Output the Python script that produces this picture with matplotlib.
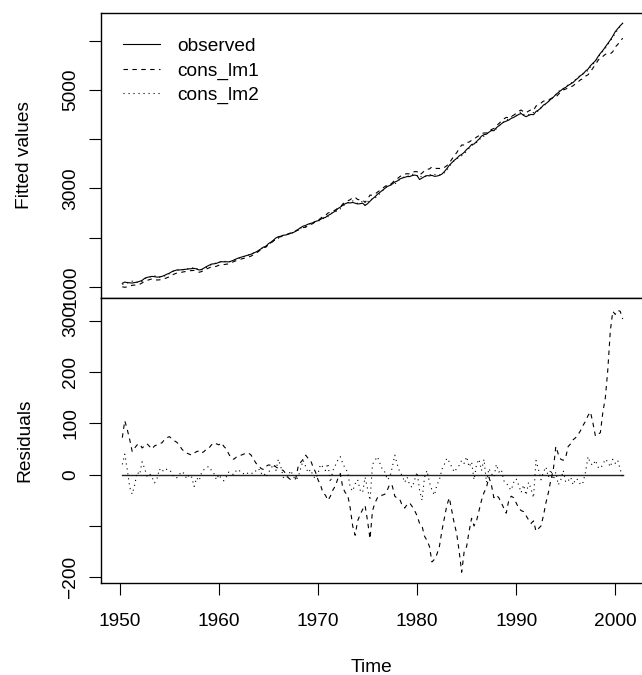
import numpy as np
import matplotlib
matplotlib.use("Agg")
import matplotlib.pyplot as plt

plt.rcParams['font.family'] = ['Liberation Sans', 'DejaVu Sans']

# quarterly series, first value is 1950 Q2
start_year = 1950.25
per_year = 4

observed = [
    1075, 1100, 1090,
    1085, 1080, 1090, 1100,
    1115, 1135, 1175, 1195,
    1205, 1215, 1210, 1200,
    1205, 1215, 1235, 1260,
    1280, 1310, 1330, 1345,
    1345, 1350, 1355, 1362,
    1368, 1372, 1378, 1365,
    1345, 1355, 1385, 1415,
    1440, 1465, 1470, 1480,
    1500, 1515, 1510, 1512,
    1510, 1525, 1545, 1570,
    1590, 1605, 1620, 1635,
    1650, 1665, 1690, 1710,
    1740, 1775, 1810, 1825,
    1880, 1910, 1950, 1995,
    2020, 2030, 2050, 2055,
    2070, 2090, 2105, 2130,
    2170, 2205, 2235, 2250,
    2275, 2290, 2305, 2330,
    2345, 2370, 2400, 2410,
    2450, 2475, 2510, 2540,
    2590, 2620, 2660, 2690,
    2710, 2705, 2715, 2700,
    2685, 2690, 2700, 2655,
    2690, 2740, 2790, 2830,
    2880, 2920, 2960, 3000,
    3040, 3060, 3090, 3130,
    3150, 3190, 3210, 3225,
    3240, 3240, 3260, 3270,
    3260, 3180, 3210, 3240,
    3260, 3255, 3265, 3245,
    3250, 3265, 3290, 3340,
    3400, 3470, 3520, 3570,
    3610, 3660, 3690, 3730,
    3790, 3830, 3890, 3900,
    3950, 4000, 4060, 4090,
    4100, 4140, 4175, 4170,
    4230, 4270, 4310, 4345,
    4365, 4385, 4420, 4440,
    4470, 4500, 4520, 4480,
    4455, 4480, 4500, 4495,
    4560, 4590, 4630, 4690,
    4720, 4760, 4810, 4850,
    4905, 4945, 4985, 5025,
    5050, 5090, 5120, 5150,
    5200, 5240, 5290, 5320,
    5380, 5420, 5490, 5540,
    5590, 5670, 5740, 5800,
    5870, 5940, 6010, 6090,
    6180, 6240, 6300, 6350,
]

resid_lm1 = [
    72, 105, 88,
    68, 45, 52, 58,
    60, 52, 56, 60,
    55, 50, 56, 58,
    60, 62, 68, 72,
    74, 70, 66, 63,
    58, 50, 45, 42,
    40, 38, 42, 45,
    46, 42, 45, 50,
    52, 58, 62, 60,
    58, 62, 55, 50,
    40, 32, 30, 34,
    36, 38, 40, 42,
    42, 38, 30, 22,
    18, 12, 10, 16,
    19, 18, 20, 15,
    12, 10, 8, 2,
    -6, -10, -10, -8,
    16, 24, 30, 38,
    32, 28, 15, 5,
    -10, -20, -35, -40,
    -50, -42, -30, -22,
    -8, 2, -25, -35,
    -40, -65, -100, -118,
    -90, -78, -68, -60,
    -90, -125, -70, -55,
    -45, -40, -40, -38,
    -30, -18, -22, -42,
    -46, -48, -60, -65,
    -58, -55, -62, -70,
    -80, -95, -100, -120,
    -128, -140, -170, -165,
    -155, -140, -110, -85,
    -60, -45, -70, -95,
    -115, -150, -190, -150,
    -140, -110, -85, -100,
    -90, -70, -50, -35,
    -25, -5, -20, -45,
    -40, -45, -55, -65,
    -75, -50, -42, -45,
    -55, -65, -70, -72,
    -80, -88, -95, -90,
    -110, -105, -100, -80,
    -55, -35, -10, 10,
    55, 40, 30, 28,
    34, 55, 60, 68,
    72, 78, 86, 96,
    104, 115, 122, 100,
    75, 78, 82, 122,
    150, 205, 280, 318,
    312, 320, 318, 303,
]

resid_lm2 = [
    20, 40, 10,
    -25, -38, -20, 5,
    0, 25, 12, -3,
    2, -5, -16, -8,
    11, 5, 12, 10,
    10, 3, -6, -6,
    0, 6, 2, -8,
    0, -5, -23, -6,
    -12, 4, 10, 14,
    16, 8, 2, -10,
    0, -8, -12, -4,
    5, 2, 0, 8,
    10, 3, 2, 5,
    1, 3, 2, 8,
    12, 2, 5, -5,
    4, 12, 20, 8,
    30, 15, -5, -8,
    -2, 8, -3, -10,
    -5, 12, 28, 16,
    4, 10, -2, -8,
    2, 20, 15, 8,
    22, -15, 8, 18,
    28, 35, 22, 12,
    5, -25, -32, -18,
    -10, -30, -35, -5,
    -28, -50, 20, 28,
    35, 22, 10, 5,
    -10, -5, 15, 38,
    20, 5, -2, -15,
    -5, -20, -25, -10,
    5, -30, -50, -5,
    8, -15, -30, -40,
    -20, -10, 10, 20,
    32, 25, 15, 5,
    12, 18, 28, 22,
    35, 15, 25, -10,
    20, 30, 8, 30,
    -15, 12, 2, -5,
    20, 5, 10, -12,
    -15, -25, -30, -15,
    -8, -20, -35, -20,
    -40, -15, -28, -45,
    28, 10, -10, 5,
    15, -5, 10, -10,
    5, -20, -10, 8,
    -15, -12, -5, -20,
    -8, -10, -20, -15,
    5, 35, 22, 18,
    28, 15, 12, 20,
    30, 25, 15, 30,
    22, 28, 10, -5,
]

obs = np.array(observed, dtype=float)
r1 = np.array(resid_lm1, dtype=float)
r2 = np.array(resid_lm2, dtype=float)
t = start_year + np.arange(len(obs)) / per_year
fit1 = obs - r1
fit2 = obs - r2

fs = 13.8
W, H = 642, 675
fig = plt.figure(figsize=(W / 100, H / 100), dpi=100)
ax1 = fig.add_axes([101 / W, 1 - 298 / H, 543 / W, 285.5 / H])
ax2 = fig.add_axes([101 / W, 1 - 583 / H, 543 / W, 285 / H])

lw = 0.8
dashed = (0, (4, 4))
dotted = (0, (1, 3.5))
ax1.plot(t, obs, color='black', lw=lw, label='observed')
ax1.plot(t, fit1, color='black', lw=lw, linestyle=dashed, label='cons_lm1')
ax1.plot(t, fit2, color='black', lw=lw, linestyle=dotted, label='cons_lm2')

ax2.plot(t, obs * 0, color='#222222', lw=1.0)
ax2.plot(t, r1, color='black', lw=lw, linestyle=dashed)
ax2.plot(t, r2, color='black', lw=lw, linestyle=dotted)

for ax in (ax1, ax2):
    ax.set_xlim(1948.1, 2002.9)
    for s in ax.spines.values():
        s.set_linewidth(1.0)
    ax.tick_params(direction='out', length=8.6, width=0.8, labelsize=fs, colors='black')
    ax.tick_params(axis='y', labelrotation=90, pad=7)

ax1.set_ylim(777, 6568)
ax1.set_yticks([1000, 2000, 3000, 4000, 5000, 6000])
ax1.set_yticklabels(['1000', '', '3000', '', '5000', ''], va='center')
ax1.tick_params(axis='x', bottom=False, labelbottom=False)

ax2.set_ylim(-211, 344)
ax2.set_yticks([-200, -100, 0, 100, 200, 300])
ax2.set_yticklabels(['\u2212200', '', '0', '100', '200', '300'], va='center')
ax2.set_xticks([1950, 1960, 1970, 1980, 1990, 2000])
ax2.tick_params(axis='x', pad=13)

fig.text(25 / W, 1 - 155 / H, 'Fitted values', rotation=90, ha='center', va='center', fontsize=fs)
fig.text(25 / W, 1 - 440 / H, 'Residuals', rotation=90, ha='center', va='center', fontsize=fs)
fig.text(372 / W, 1 - 667 / H, 'Time', ha='center', va='center', fontsize=fs)

ax1.legend(loc='upper left', bbox_to_anchor=(0.04, 0.912), frameon=False, fontsize=fs,
           handlelength=1.95, handletextpad=0.9, labelspacing=0.36, borderpad=0, borderaxespad=0)

fig.savefig('out.png', dpi=100)
